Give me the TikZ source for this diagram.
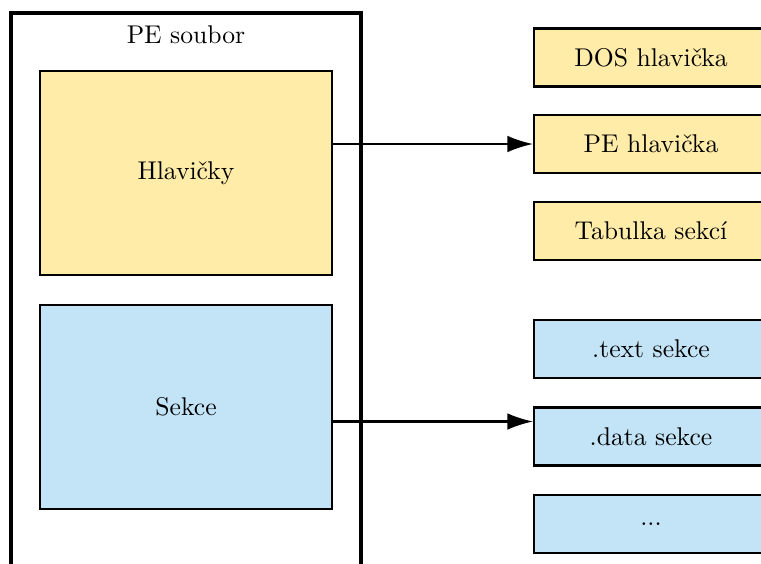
\documentclass[tikz,border=0pt]{standalone}
\usetikzlibrary{arrows.meta}
\definecolor{hdrfill}{HTML}{FFECA8}
\definecolor{secfill}{HTML}{C3E4F6}
\begin{document}
\begin{tikzpicture}[x=0.39pt,y=-0.39pt,
  bigbox/.style={draw,line width=0.8pt,minimum width=292*0.39pt,minimum height=204*0.39pt,inner sep=0pt},
  partbox/.style={draw,line width=0.8pt,minimum width=234*0.39pt,minimum height=58*0.39pt,inner sep=0pt},
  hdr/.style={fill=hdrfill},
  sec/.style={fill=secfill},
  link/.style={line width=0.8pt,-{Latex[length=10pt,width=6.5pt]}}]
  \useasboundingbox (0,0) rectangle (761,563);
  \clip (0,0) rectangle (761,563);
  % outer container
  \draw[line width=1.2pt] (11,600) -- (11,13) -- (361,13) -- (361,600);
  \node (file) at (186,35) {PE soubor};
  % main parts
  \node[bigbox,hdr] (hl) at (186,173) {Hlavičky};
  \node[bigbox,sec] (se) at (186,407) {Sekce};
  % detailed parts
  \node[partbox,hdr] (dos) at (651,57.5) {DOS hlavička};
  \node[partbox,hdr] (pe) at (651,144) {PE hlavička};
  \node[partbox,hdr] (tab) at (651,231) {Tabulka sekcí};
  \node[partbox,sec] (txt) at (651,349) {.text sekce};
  \node[partbox,sec] (dat) at (651,436.5) {.data sekce};
  \node[partbox,sec] (etc) at (651,524) {...};
  % links
  \draw[link] (hl.east |- pe.west) -- (pe.west);
  \coordinate (dy) at (0,421.5);
  \draw[link] (se.east |- dy) -- (dat.west |- dy);
\end{tikzpicture}
\end{document}
